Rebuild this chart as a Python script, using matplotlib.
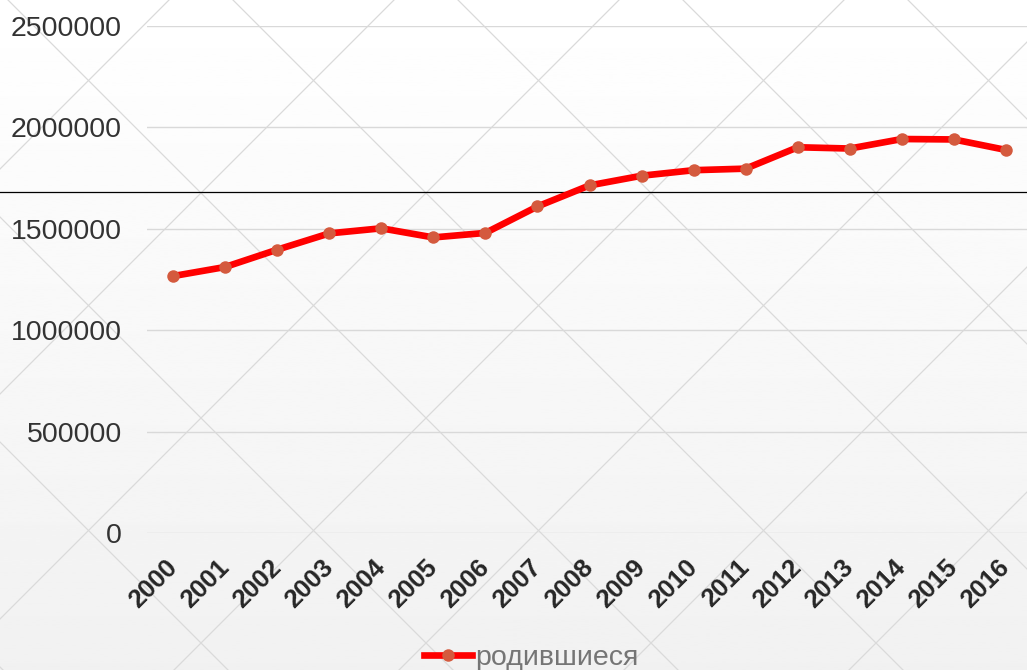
import numpy as np
import matplotlib
matplotlib.use('Agg')
import matplotlib.pyplot as plt
from matplotlib.lines import Line2D

plt.rcParams['font.family'] = ['Liberation Sans', 'DejaVu Sans']

years = ['2000', '2001', '2002', '2003', '2004', '2005', '2006', '2007', '2008',
         '2009', '2010', '2011', '2012', '2013', '2014', '2015', '2016']
births = [1266800, 1311604, 1396967, 1477301, 1502477, 1457376, 1479637, 1610122,
          1713947, 1761687, 1788948, 1796629, 1902084, 1895822, 1942683, 1940579,
          1888729]
series_name = 'родившиеся'
y_ticks = [0, 500000, 1000000, 1500000, 2000000, 2500000]

W, H = 1027, 670
fig = plt.figure(figsize=(W / 100, H / 100), dpi=100)

# background: soft vertical gradient + diamond pattern
bg = fig.add_axes([0, 0, 1, 1], zorder=0)
grad = np.linspace(0, 1, 256).reshape(-1, 1)
grad = 1.0 - 0.055 * grad
bg.imshow(grad, cmap='gray', vmin=0, vmax=1, aspect='auto', extent=[0, W, H, 0])
for k in range(-4, 6):
    c = 8 + 225 * k
    bg.plot([c, c + H], [0, H], color='#dadada', lw=0.9)
for k in range(-3, 9):
    c = 394 + 225 * k
    bg.plot([c, c - H], [0, H], color='#dadada', lw=0.9)
bg.set_xlim(0, W)
bg.set_ylim(H, 0)
bg.axis('off')

ax = fig.add_axes([147 / W, (H - 533) / H, 880 / W, 507 / H], zorder=2)
ax.patch.set_alpha(0)
x = np.arange(len(years))
ax.plot(x, births, color='#ff0000', lw=4.8, marker='o', markersize=9,
        markerfacecolor='#d45a3e', markeredgewidth=0, label=series_name,
        clip_on=False, zorder=3)
ax.set_xlim(-0.5, -0.5 + 880 / 52.06)
ax.set_ylim(0, 2500000)
ax.set_yticks(y_ticks)
ax.set_yticklabels([str(v) for v in y_ticks], fontsize=20.5, color='#333333')
ax.yaxis.grid(True, color='#d9d9d9', lw=1.0)
ax.set_axisbelow(True)
ax.set_xticks(x)
ax.set_xticklabels(years, rotation=45, ha='right', va='center', rotation_mode='anchor',
                   fontsize=18.5, fontweight='bold', color='#262626')
ax.tick_params(axis='y', length=0, pad=18)
ax.tick_params(axis='x', length=0, pad=22)
for s in ax.spines.values():
    s.set_visible(False)

fig.add_artist(Line2D([0, 1], [(H - 192) / H, (H - 192) / H], color='black', lw=0.9, zorder=1))

leg = fig.legend(loc='lower center', bbox_to_anchor=(531 / W, -0.04), frameon=False,
                 fontsize=20.5, handlelength=1.7, handletextpad=0.1)
for t in leg.get_texts():
    t.set_color('#757575')

fig.savefig('out.png', dpi=100)
